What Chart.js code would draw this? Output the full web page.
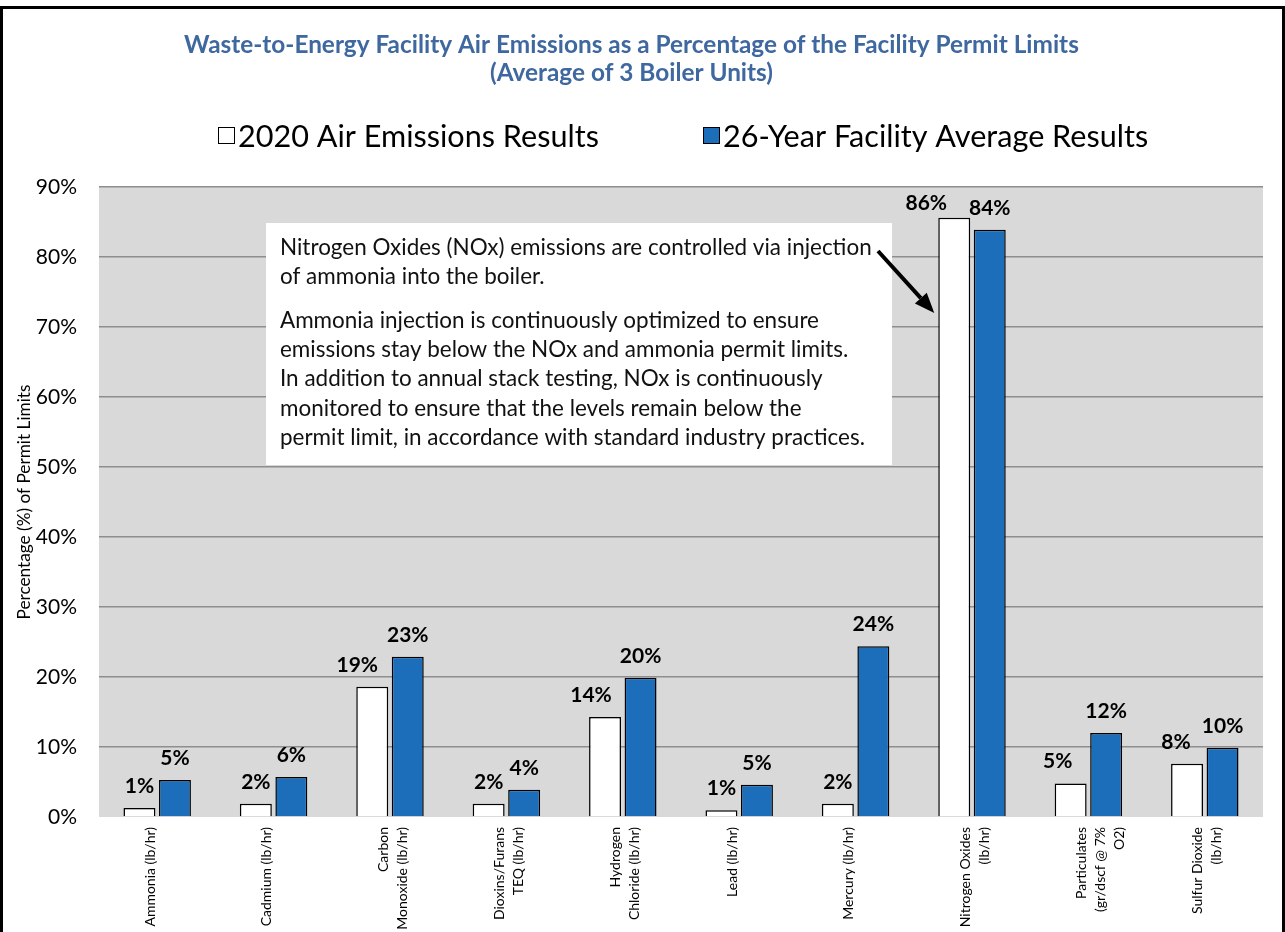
<!DOCTYPE html>
<html><head><meta charset="utf-8">
<script src="https://cdn.jsdelivr.net/npm/chart.js@4.4.1/dist/chart.umd.min.js"></script>
<style>html,body{margin:0;padding:0;background:#fff;overflow:hidden}canvas{display:block}</style>
</head><body>
<canvas id="c" width="1285" height="932"></canvas>
<script>
// ---------------- data ----------------
const categories = [
  'Ammonia (lb/hr)',
  'Cadmium (lb/hr)',
  ['Carbon', 'Monoxide (lb/hr)'],
  ['Dioxins/Furans', 'TEQ (lb/hr)'],
  ['Hydrogen', 'Chloride (lb/hr)'],
  'Lead (lb/hr)',
  'Mercury (lb/hr)',
  ['Nitrogen Oxides', '(lb/hr)'],
  ['Particulates', '(gr/dscf @ 7%', 'O2)'],
  ['Sulfur Dioxide', '(lb/hr)']
];
const results2020 = [1.3, 1.9, 18.6, 1.9, 14.3, 0.95, 1.9, 85.6, 4.8, 7.6];
const average26yr = [5.3, 5.7, 22.9, 3.9, 19.9, 4.6, 24.4, 83.9, 12.0, 9.9];
const seriesNames = ['2020 Air Emissions Results', '26-Year Facility Average Results'];
const yTickValues = [0, 10, 20, 30, 40, 50, 60, 70, 80, 90];
const titleLines = [
  'Waste-to-Energy Facility Air Emissions as a Percentage of the Facility Permit Limits',
  '(Average of 3 Boiler Units)'
];
const yAxisTitle = 'Percentage (%) of Permit Limits';
const noteLines = [
  'Nitrogen Oxides (NOx) emissions are controlled via injection',
  'of ammonia into the boiler.',
  '',
  'Ammonia injection is continuously optimized to ensure',
  'emissions stay below the NOx and ammonia permit limits.',
  'In addition to annual stack testing, NOx is continuously',
  'monitored to ensure that the levels remain below the',
  'permit limit, in accordance with standard industry practices.'
];

// ---------------- style ----------------
const FAMILY = 'Lato, "Open Sans", sans-serif';
const BLUE = '#1C6EBA';
const TITLE_BLUE = '#3E689F';
const PLOT_BG = '#D9D9D9';
// small manual nudges of the 2020 value labels (as in the original)
const label2020Nudge = [[0,0],[0,0],[-15,0],[0,0],[-14,0],[0,0],[0,0],[-28,7],[-13,0],[-11,0]];

const mctx = document.createElement('canvas').getContext('2d');
function fitSize(text, weight, target) {
  mctx.font = weight + ' 100px ' + FAMILY;
  return 100 * target / mctx.measureText(text).width;
}
const titleSize = fitSize(titleLines[0], 'bold', 895);
const legendSize = fitSize(seriesNames[0], 'normal', 361);
const noteSize = fitSize(noteLines[0], 'normal', 592);

// ---------------- plugins ----------------
const backgroundPlugin = {
  id: 'bg',
  beforeDraw(chart) {
    const {ctx, chartArea: a} = chart;
    ctx.save();
    ctx.fillStyle = '#fff';
    ctx.fillRect(0, 0, chart.width, chart.height);
    ctx.fillStyle = PLOT_BG;
    ctx.fillRect(a.left, a.top, a.right - a.left, a.bottom - a.top);
    ctx.restore();
  }
};

const legendPlugin = {
  id: 'customLegend',
  afterDraw(chart) {
    const ctx = chart.ctx;
    ctx.save();
    ctx.font = legendSize.toFixed(2) + 'px ' + FAMILY;
    ctx.textBaseline = 'middle';
    ctx.textAlign = 'left';
    const items = [
      {x: 218, fill: '#fff'},
      {x: 703, fill: BLUE}
    ];
    const y = 136;
    items.forEach((it, i) => {
      ctx.fillStyle = it.fill;
      ctx.fillRect(it.x, y - 9, 17, 17);
      ctx.strokeStyle = '#000';
      ctx.lineWidth = 1;
      ctx.strokeRect(it.x + 0.5, y - 8.5, 16, 16);
      ctx.fillStyle = '#000';
      ctx.fillText(seriesNames[i], it.x + 20, y + 1);
    });
    ctx.restore();
  }
};

const labelsPlugin = {
  id: 'valueLabels',
  afterDatasetsDraw(chart) {
    const ctx = chart.ctx;
    ctx.save();
    ctx.font = 'bold 21px ' + FAMILY;
    ctx.fillStyle = '#000';
    ctx.textAlign = 'center';
    ctx.textBaseline = 'alphabetic';
    chart.data.datasets.forEach((ds, di) => {
      const meta = chart.getDatasetMeta(di);
      meta.data.forEach((bar, i) => {
        const nudge = di === 0 ? label2020Nudge[i] : [0, 0];
        ctx.fillText(Math.round(ds.data[i]) + '%', bar.x + nudge[0], bar.y - 15 + nudge[1]);
      });
    });
    ctx.restore();
  }
};

const notePlugin = {
  id: 'note',
  afterDatasetsDraw(chart) {
    const ctx = chart.ctx;
    const a = chart.chartArea;
    const box = {l: 266, t: 223, r: 892, b: 465};
    ctx.save();
    ctx.fillStyle = '#fff';
    ctx.fillRect(box.l, box.t, box.r - box.l, box.b - box.t);
    ctx.fillStyle = '#111';
    ctx.font = noteSize.toFixed(2) + 'px ' + FAMILY;
    ctx.textBaseline = 'middle';
    ctx.textAlign = 'left';
    const ys = [248, 277, null, 321, 350, 379, 409, 438];
    noteLines.forEach((t, i) => { if (t) ctx.fillText(t, 280, ys[i]); });
    // arrow to the NOx 2020 bar
    const bar = chart.getDatasetMeta(0).data[7];
    const tipX = bar.x - bar.width / 2 - 4;
    const tipY = chart.scales.y.getPixelForValue(72);
    const sx = 878, sy = 251;
    const ang = Math.atan2(tipY - sy, tipX - sx);
    const headLen = 20, headW = 8;
    const bx = tipX - headLen * Math.cos(ang), by = tipY - headLen * Math.sin(ang);
    ctx.strokeStyle = '#000';
    ctx.lineWidth = 4;
    ctx.beginPath();
    ctx.moveTo(sx, sy);
    ctx.lineTo(bx, by);
    ctx.stroke();
    ctx.fillStyle = '#000';
    ctx.beginPath();
    ctx.moveTo(tipX, tipY);
    ctx.lineTo(bx + headW * Math.sin(ang), by - headW * Math.cos(ang));
    ctx.lineTo(bx - headW * Math.sin(ang), by + headW * Math.cos(ang));
    ctx.closePath();
    ctx.fill();
    ctx.restore();
  }
};

const framePlugin = {
  id: 'frame',
  afterDraw(chart) {
    const ctx = chart.ctx;
    ctx.save();
    ctx.strokeStyle = '#000';
    ctx.lineWidth = 3;
    ctx.strokeRect(1.5, 7.5, chart.width - 3, chart.height + 20);
    ctx.restore();
  }
};

// ---------------- chart ----------------
new Chart(document.getElementById('c'), {
  type: 'bar',
  data: {
    labels: categories,
    datasets: [
      {
        label: seriesNames[0],
        data: results2020,
        backgroundColor: '#FFFFFF',
        borderColor: '#000',
        borderWidth: 1.5,
        categoryPercentage: 0.61,
        barPercentage: 0.9
      },
      {
        label: seriesNames[1],
        data: average26yr,
        backgroundColor: BLUE,
        borderColor: '#000',
        borderWidth: 1.5,
        categoryPercentage: 0.61,
        barPercentage: 0.9
      }
    ]
  },
  options: {
    responsive: false,
    devicePixelRatio: 1,
    animation: false,
    layout: {padding: {top: 0, left: 0, right: 22, bottom: 0}},
    plugins: {
      legend: {display: false},
      tooltip: {enabled: false},
      title: {
        display: true,
        text: titleLines,
        color: TITLE_BLUE,
        font: {family: FAMILY, weight: 'bold', size: titleSize, lineHeight: '28px'},
        padding: {top: 31, bottom: 100}
      }
    },
    scales: {
      x: {
        grid: {display: false, drawTicks: false},
        border: {display: false},
        ticks: {
          autoSkip: false,
          minRotation: 90,
          maxRotation: 90,
          padding: 10,
          labelOffset: -7,
          color: '#000',
          font: {family: FAMILY, size: 14, lineHeight: '19px'}
        },
        afterFit(s) { s.height = 115; }
      },
      y: {
        min: 0,
        max: 90,
        afterBuildTicks(s) { s.ticks = yTickValues.map(v => ({value: v})); },
        grid: {
          drawTicks: false,
          color: ctx => ctx.tick && ctx.tick.value === 0 ? 'rgba(0,0,0,0)' : '#8E8E8E',
          lineWidth: 1.5
        },
        border: {display: false},
        ticks: {
          padding: 22,
          color: '#000',
          font: {family: FAMILY, size: 21},
          callback: v => v + '%'
        },
        title: {
          display: true,
          text: yAxisTitle,
          color: '#000',
          font: {family: FAMILY, size: fitSize(yAxisTitle, 'normal', 235), lineHeight: 1.2},
          padding: {top: 14}
        },
        afterFit(s) { s.width = 99; }
      }
    }
  },
  plugins: [backgroundPlugin, labelsPlugin, notePlugin, legendPlugin, framePlugin]
});
</script>
</body></html>
